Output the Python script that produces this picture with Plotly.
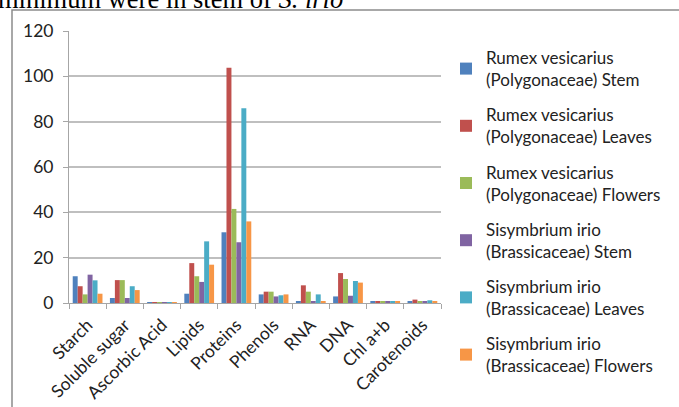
import plotly.graph_objects as go

# Biochemical constituents by plant organ
categories = ["Starch", "Soluble sugar", "Ascorbic Acid", "Lipids", "Proteins",
              "Phenols", "RNA", "DNA", "Chl a+b", "Carotenoids"]

series_names = [
    "Rumex vesicarius<br>(Polygonaceae) Stem",
    "Rumex vesicarius<br>(Polygonaceae) Leaves",
    "Rumex vesicarius<br>(Polygonaceae) Flowers",
    "Sisymbrium irio<br>(Brassicaceae) Stem",
    "Sisymbrium irio<br>(Brassicaceae) Leaves",
    "Sisymbrium irio<br>(Brassicaceae) Flowers",
]

rv_stem = [11.8, 2.2, 0.4, 4.1, 31.2, 3.8, 0.6, 2.9, 0.5, 0.6]
rv_leaves = [7.4, 10.1, 0.4, 17.6, 103.8, 5.0, 7.8, 13.2, 0.5, 1.5]
rv_flowers = [3.8, 10.1, 0.4, 11.8, 41.5, 5.0, 5.0, 10.6, 0.5, 0.6]
si_stem = [12.5, 2.2, 0.4, 9.3, 26.8, 2.9, 0.6, 3.2, 0.5, 0.6]
si_leaves = [10.0, 7.4, 0.4, 27.2, 85.9, 3.4, 3.8, 9.7, 0.5, 1.2]
si_flowers = [4.1, 5.7, 0.4, 16.9, 36.0, 3.8, 0.6, 9.0, 0.5, 0.6]

series_values = [rv_stem, rv_leaves, rv_flowers, si_stem, si_leaves, si_flowers]
colors = ["#4F81BD", "#C0504D", "#9BBB59", "#8064A2", "#4BACC6", "#F79646"]

W, H = 679, 407
L, R, T, B = 69, 238, 31, 104

fig = go.Figure()
for i, (name, vals, col) in enumerate(zip(series_names, series_values, colors)):
    fig.add_trace(go.Bar(
        x=categories, y=vals, name=name, legendgroup=f"g{i}",
        marker=dict(color=col, line=dict(width=0)),
    ))

grid = "#BFBFBF"
fig.update_layout(
    width=W, height=H,
    margin=dict(l=L, r=R, t=T, b=B, pad=0, autoexpand=False),
    paper_bgcolor="white", plot_bgcolor="white",
    barmode="group", bargap=0.2, bargroupgap=0,
    font=dict(family="Lato, 'Open Sans', sans-serif", color="#222222", size=14),
    showlegend=True,
    legend=dict(
        x=(466 - 20 - L) / (W - L - R), xanchor="left",
        y=(303 - 40) / (303 - T), yanchor="top",
        traceorder="grouped", tracegroupgap=10,
        font=dict(size=17, color="#222222"),
        bgcolor="rgba(0,0,0,0)",
        maxheight=400,
    ),
    xaxis=dict(
        type="category", tickangle=-45, tickson="boundaries",
        ticks="outside", ticklen=5, tickcolor="#A6A6A6", tickwidth=1,
        showline=True, linecolor="#A6A6A6", linewidth=1,
        showgrid=False, tickfont=dict(size=17.5, color="#222222"),
        ticklabelstandoff=4, automargin=False,
    ),
    yaxis=dict(
        range=[0, 120], dtick=20,
        ticks="outside", ticklen=5, tickcolor="#A6A6A6",
        showline=True, linecolor="#A6A6A6", linewidth=1,
        showgrid=True, gridcolor=grid, gridwidth=1.5,
        zeroline=False, tickfont=dict(size=17.5, color="#222222"),
        ticklabelstandoff=6, automargin=False,
    ),
)

pw, ph = W - L - R, H - T - B
def px_x(v):
    return (v - L) / pw
def px_y(v):
    return (H - B - v) / ph

# outer chart frame
fig.add_shape(type="rect", xref="paper", yref="paper",
              x0=px_x(12), x1=px_x(W + 5), y0=px_y(H + 5), y1=px_y(10),
              line=dict(color="#8C8C8C", width=1.5), fillcolor="rgba(0,0,0,0)",
              layer="below")

# running text line above the chart
fig.add_annotation(
    xref="paper", yref="paper", x=px_x(-4), y=px_y(16),
    xanchor="left", yanchor="bottom", showarrow=False,
    text="minimum were in stem of <i>S. irio</i>",
    font=dict(family="Liberation Serif, serif", size=26.5, color="#000000"),
)

fig.write_html("out.html")
